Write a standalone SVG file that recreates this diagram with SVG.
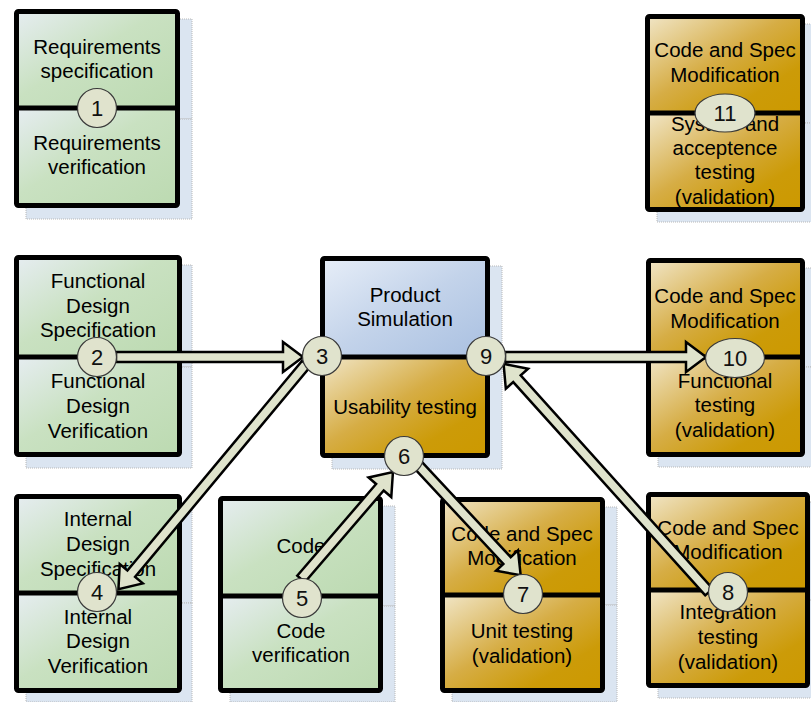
<svg xmlns="http://www.w3.org/2000/svg" width="811" height="702" viewBox="0 0 811 702">
  <defs>
    <linearGradient id="gGreen" x1="0" y1="0" x2="1" y2="1">
      <stop offset="0" stop-color="#e6edf1"/>
      <stop offset="0.45" stop-color="#c9e1c1"/>
      <stop offset="1" stop-color="#bcdab1"/>
    </linearGradient>
    <linearGradient id="gGold" x1="0" y1="0" x2="1" y2="1">
      <stop offset="0" stop-color="#f1e6c8"/>
      <stop offset="0.45" stop-color="#d6ad45"/>
      <stop offset="0.75" stop-color="#cc9b08"/>
      <stop offset="1" stop-color="#cc9900"/>
    </linearGradient>
    <linearGradient id="gBlue" x1="0" y1="0" x2="1" y2="1">
      <stop offset="0" stop-color="#e7eef8"/>
      <stop offset="0.5" stop-color="#c3d3ea"/>
      <stop offset="1" stop-color="#a9c0e1"/>
    </linearGradient>
  </defs>
  <style>
    .shadow { fill: #dbe5f1; stroke: #b8b8b8; stroke-width: 1; stroke-dasharray: 1 1; }
    .green { fill: url(#gGreen); }
    .gold { fill: url(#gGold); }
    .blue { fill: url(#gBlue); }
    .frame { fill: none; stroke: #000; stroke-width: 5; }
    .div { stroke: #000; stroke-width: 5; }
    .lbl { font-family: "Liberation Sans", Arial, sans-serif; font-size: 20.5px; fill: #000; text-anchor: middle; }
    .badge { fill: #e0e3cd; stroke: #3a3a3a; stroke-width: 1.2; }
    .num { font-family: "Liberation Sans", Arial, sans-serif; font-size: 22px; fill: #111; text-anchor: middle; }
    .arrow { fill: #dfe3cc; stroke: #000; stroke-width: 2.5; stroke-linejoin: miter; }
  </style>

  <!-- Requirements -->
  <g id="requirements">
    <rect class="shadow" x="26" y="19" width="166" height="100"/>
    <rect class="shadow" x="26" y="119" width="166" height="100"/>
    <rect class="green" x="16" y="11" width="162" height="97"/>
    <rect class="green" x="16" y="108" width="162" height="98"/>
    <rect class="frame" x="16.5" y="11.5" width="161" height="194" rx="2"/>
    <line class="div" x1="14" y1="108" x2="180" y2="108"/>
    <text class="lbl" x="97" y="54">Requirements</text>
    <text class="lbl" x="97" y="78">specification</text>
    <text class="lbl" x="97" y="150">Requirements</text>
    <text class="lbl" x="97" y="174">verification</text>
  </g>

  <!-- Functional design -->
  <g id="functional-design">
    <rect class="shadow" x="26" y="265" width="166" height="102"/>
    <rect class="shadow" x="26" y="367" width="166" height="101"/>
    <rect class="green" x="16" y="257" width="164" height="100"/>
    <rect class="green" x="16" y="357" width="164" height="98"/>
    <rect class="frame" x="16.5" y="257.5" width="163" height="197" rx="2"/>
    <line class="div" x1="14" y1="357" x2="182" y2="357"/>
    <text class="lbl" x="98" y="288">Functional</text>
    <text class="lbl" x="98" y="313">Design</text>
    <text class="lbl" x="98" y="337">Specification</text>
    <text class="lbl" x="98" y="388">Functional</text>
    <text class="lbl" x="98" y="413">Design</text>
    <text class="lbl" x="98" y="438">Verification</text>
  </g>

  <!-- Internal design -->
  <g id="internal-design">
    <rect class="shadow" x="26" y="504" width="166" height="99"/>
    <rect class="shadow" x="26" y="603" width="166" height="99"/>
    <rect class="green" x="16" y="496" width="164" height="97"/>
    <rect class="green" x="16" y="593" width="164" height="98"/>
    <rect class="frame" x="16.5" y="496.5" width="163" height="194" rx="2"/>
    <line class="div" x1="14" y1="593" x2="182" y2="593"/>
    <text class="lbl" x="98" y="526">Internal</text>
    <text class="lbl" x="98" y="551">Design</text>
    <text class="lbl" x="98" y="576">Specification</text>
    <text class="lbl" x="98" y="624">Internal</text>
    <text class="lbl" x="98" y="648">Design</text>
    <text class="lbl" x="98" y="673">Verification</text>
  </g>

  <!-- Code -->
  <g id="code">
    <rect class="shadow" x="230" y="506" width="165" height="100"/>
    <rect class="shadow" x="230" y="606" width="165" height="96"/>
    <rect class="green" x="220" y="498" width="161" height="98"/>
    <rect class="green" x="220" y="596" width="161" height="95"/>
    <rect class="frame" x="220.5" y="498.5" width="160" height="192" rx="2"/>
    <line class="div" x1="218" y1="596" x2="383" y2="596"/>
    <text class="lbl" x="301" y="553">Code</text>
    <text class="lbl" x="301" y="638">Code</text>
    <text class="lbl" x="301" y="662">verification</text>
  </g>

  <!-- Product simulation / usability testing -->
  <g id="product-simulation">
    <rect class="shadow" x="332" y="266" width="170" height="101"/>
    <rect class="shadow" x="332" y="367" width="170" height="102"/>
    <rect class="blue" x="322" y="258" width="166" height="99"/>
    <rect class="gold" x="322" y="357" width="166" height="99"/>
    <rect class="frame" x="322.5" y="258.5" width="165" height="197" rx="2"/>
    <line class="div" x1="320" y1="357" x2="490" y2="357"/>
    <text class="lbl" x="405" y="302">Product</text>
    <text class="lbl" x="405" y="326">Simulation</text>
    <text class="lbl" x="405" y="414">Usability testing</text>
  </g>

  <!-- Unit testing -->
  <g id="unit-testing">
    <rect class="shadow" x="452" y="507" width="165" height="98"/>
    <rect class="shadow" x="452" y="605" width="165" height="97"/>
    <rect class="gold" x="442" y="499" width="161" height="96"/>
    <rect class="gold" x="442" y="595" width="161" height="96"/>
    <rect class="frame" x="442.5" y="499.5" width="160" height="191" rx="2"/>
    <line class="div" x1="440" y1="595" x2="605" y2="595"/>
    <text class="lbl" x="522" y="541">Code and Spec</text>
    <text class="lbl" x="522" y="565">Modification</text>
    <text class="lbl" x="522" y="638">Unit testing</text>
    <text class="lbl" x="522" y="663">(validation)</text>
  </g>

  <!-- Integration testing -->
  <g id="integration-testing">
    <rect class="shadow" x="658" y="502" width="160" height="98"/>
    <rect class="shadow" x="658" y="600" width="160" height="98"/>
    <rect class="gold" x="648" y="494" width="160" height="96"/>
    <rect class="gold" x="648" y="590" width="160" height="96"/>
    <rect class="frame" x="648.5" y="494.5" width="159" height="191" rx="2"/>
    <line class="div" x1="646" y1="590" x2="810" y2="590"/>
    <text class="lbl" x="728" y="535">Code and Spec</text>
    <text class="lbl" x="728" y="559">Modification</text>
    <text class="lbl" x="728" y="619">Integration</text>
    <text class="lbl" x="728" y="644">testing</text>
    <text class="lbl" x="728" y="669">(validation)</text>
  </g>

  <!-- Functional testing -->
  <g id="functional-testing">
    <rect class="shadow" x="658" y="268" width="160" height="99"/>
    <rect class="shadow" x="658" y="367" width="160" height="100"/>
    <rect class="gold" x="648" y="260" width="155" height="97"/>
    <rect class="gold" x="648" y="357" width="155" height="98"/>
    <rect class="frame" x="648.5" y="260.5" width="154" height="194" rx="2"/>
    <line class="div" x1="646" y1="357" x2="805" y2="357"/>
    <text class="lbl" x="725" y="303">Code and Spec</text>
    <text class="lbl" x="725" y="328">Modification</text>
    <text class="lbl" x="725" y="388">Functional</text>
    <text class="lbl" x="725" y="412">testing</text>
    <text class="lbl" x="725" y="437">(validation)</text>
  </g>

  <!-- System and acceptance testing -->
  <g id="system-testing">
    <rect class="shadow" x="657" y="24" width="160" height="99"/>
    <rect class="shadow" x="657" y="123" width="160" height="99"/>
    <rect class="gold" x="647" y="16" width="156" height="97"/>
    <rect class="gold" x="647" y="113" width="156" height="97"/>
    <rect class="frame" x="647.5" y="16.5" width="155" height="193" rx="2"/>
    <line class="div" x1="645" y1="113" x2="805" y2="113"/>
    <text class="lbl" x="725" y="57">Code and Spec</text>
    <text class="lbl" x="725" y="82">Modification</text>
    <text class="lbl" x="725" y="131">System and</text>
    <text class="lbl" x="725" y="155">acceptence</text>
    <text class="lbl" x="725" y="179">testing</text>
    <text class="lbl" x="725" y="204">(validation)</text>
  </g>

  <!-- Block arrows: tail at local origin, tip at (L,0) -->
  <g id="connectors">
    <polygon class="arrow" transform="translate(116,357)" points="0,-5 167,-5 167,-15 187,0 167,15 167,5 0,5"/>
    <polygon class="arrow" transform="translate(306,364) rotate(129.8)" points="0,-5 273,-5 273,-15 293,0 273,15 273,5 0,5"/>
    <polygon class="arrow" transform="translate(301,579) rotate(-49.3)" points="0,-5 121,-5 121,-15 141,0 121,15 121,5 0,5"/>
    <polygon class="arrow" transform="translate(417,464) rotate(47)" points="0,-5 132,-5 132,-15 152,0 132,15 132,5 0,5"/>
    <polygon class="arrow" transform="translate(709,592) rotate(-132)" points="0,-5 287,-5 287,-15 307,0 287,15 287,5 0,5"/>
    <polygon class="arrow" transform="translate(505,357)" points="0,-5 181,-5 181,-15 201,0 181,15 181,5 0,5"/>
  </g>

  <!-- Step badges -->
  <g id="badge-1"><circle class="badge" cx="97" cy="108" r="19.5"/><text class="num" x="97" y="116">1</text></g>
  <g id="badge-2"><circle class="badge" cx="97" cy="357" r="19.5"/><text class="num" x="97" y="365">2</text></g>
  <g id="badge-3"><circle class="badge" cx="322" cy="356" r="19.5"/><text class="num" x="322" y="364">3</text></g>
  <g id="badge-4"><circle class="badge" cx="97" cy="592" r="19.5"/><text class="num" x="97" y="600">4</text></g>
  <g id="badge-5"><circle class="badge" cx="302" cy="598" r="19.5"/><text class="num" x="302" y="606">5</text></g>
  <g id="badge-6"><circle class="badge" cx="404" cy="456" r="19.5"/><text class="num" x="404" y="464">6</text></g>
  <g id="badge-7"><circle class="badge" cx="523" cy="594" r="19.5"/><text class="num" x="523" y="602">7</text></g>
  <g id="badge-8"><circle class="badge" cx="728" cy="592" r="19.5"/><text class="num" x="728" y="600">8</text></g>
  <g id="badge-9"><circle class="badge" cx="486" cy="356" r="19.5"/><text class="num" x="486" y="364">9</text></g>
  <g id="badge-10"><ellipse class="badge" cx="735" cy="358" rx="29.5" ry="19.5"/><text class="num" x="735" y="366">10</text></g>
  <g id="badge-11"><ellipse class="badge" cx="725" cy="113" rx="30" ry="19"/><text class="num" x="725" y="121">11</text></g>
</svg>
